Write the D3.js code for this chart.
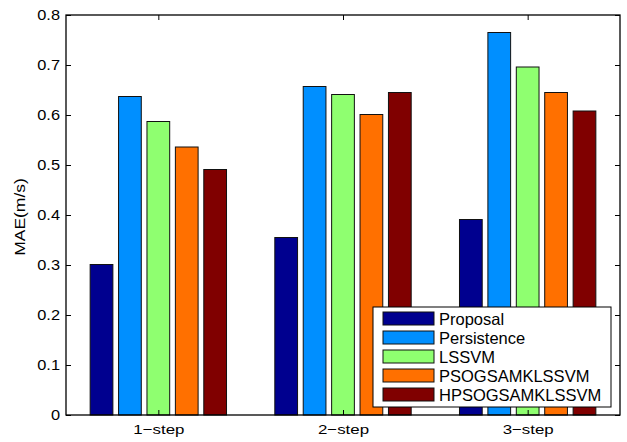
<!DOCTYPE html>
<html lang="en">
<head>
<meta charset="UTF-8">
<title>MAE by step</title>
<script src="https://d3js.org/d3.v7.min.js"></script>
<style>
body { margin: 0; background: #fff; }
text { font-family: 'Liberation Sans', Arial, sans-serif; fill: #000; }
</style>
</head>
<body>
<svg width="627" height="442"></svg>
<script>
var steps = ["1\u2212step", "2\u2212step", "3\u2212step"];
var seriesNames = ["Proposal", "Persistence", "LSSVM", "PSOGSAMKLSSVM", "HPSOGSAMKLSSVM"];
var proposal = [0.301, 0.355, 0.391];
var persistence = [0.637, 0.657, 0.765];
var lssvm = [0.587, 0.641, 0.696];
var psog = [0.536, 0.601, 0.645];
var hpsog = [0.491, 0.645, 0.608];
var yTicks = [0, 0.1, 0.2, 0.3, 0.4, 0.5, 0.6, 0.7, 0.8];
var colors = ["#00008f", "#008fff", "#8fff70", "#ff7000", "#800000"];

var series = [proposal, persistence, lssvm, psog, hpsog];

var svg = d3.select("svg"),
    plot = {left: 66, right: 620, top: 15, bottom: 415};

var x = d3.scaleLinear().domain([0.5, 3.5]).range([plot.left, plot.right]);
var y = d3.scaleLinear().domain([0, 0.8]).range([plot.bottom, plot.top]);

// matlab grouped bar layout
var n = series.length,
    groupW = Math.min(0.8, n / (n + 1.5)),
    step = groupW / n,
    barW = step * 0.8;

series.forEach(function(vals, s) {
    svg.append("g").selectAll("rect")
        .data(vals)
        .enter()
        .append("rect")
        .attr("x", function(d, i) { return x(i + 1 + (s - (n - 1) / 2) * step - barW / 2); })
        .attr("width", x(barW) - x(0))
        .attr("y", function(d) { return y(d); })
        .attr("height", function(d) { return y(0) - y(d); })
        .attr("fill", colors[s])
        .attr("stroke", "#111")
        .attr("stroke-width", 1);
});

// frame
svg.append("rect")
    .attr("x", plot.left).attr("y", plot.top)
    .attr("width", plot.right - plot.left).attr("height", plot.bottom - plot.top)
    .attr("fill", "none").attr("stroke", "#000").attr("stroke-width", 1.3);

// y ticks, both sides, pointing in
var yAxisL = d3.axisLeft(y).tickValues(yTicks).tickSize(-5)
    .tickFormat(function(d) { return d === 0 ? "0" : d3.format(".1f")(d); });
var gy = svg.append("g").attr("transform", "translate(" + plot.left + ",0)").call(yAxisL);
gy.select(".domain").remove();
gy.selectAll("text")
    .style("font-size", "14px")
    .attr("x", null)
    .attr("transform", "translate(-6,0) scale(1.17,1)")
    .attr("text-anchor", "end");

var gyr = svg.append("g").attr("transform", "translate(" + plot.right + ",0)")
    .call(d3.axisRight(y).tickValues(yTicks).tickSize(-5).tickFormat(""));
gyr.select(".domain").remove();

// x ticks, top and bottom
var gx = svg.append("g").attr("transform", "translate(0," + plot.bottom + ")")
    .call(d3.axisBottom(x).tickValues([1, 2, 3]).tickSize(-5).tickFormat(function(d) { return steps[d - 1]; }));
gx.select(".domain").remove();
gx.selectAll("text")
    .style("font-size", "13.5px")
    .attr("y", null).attr("dy", null)
    .attr("transform", "translate(0,19) scale(1.25,1)");

var gxt = svg.append("g").attr("transform", "translate(0," + plot.top + ")")
    .call(d3.axisTop(x).tickValues([1, 2, 3]).tickSize(-5).tickFormat(""));
gxt.select(".domain").remove();

svg.selectAll(".tick line").attr("stroke", "#000");

// y label
svg.append("text")
    .attr("transform", "translate(25,217) rotate(-90) scale(1.25,1)")
    .attr("text-anchor", "middle")
    .style("font-size", "14px")
    .text("MAE(m/s)");

// legend
var lg = svg.append("g").attr("transform", "translate(373,307)");
lg.append("rect")
    .attr("width", 238).attr("height", 100)
    .attr("fill", "#fff").attr("stroke", "#000").attr("stroke-width", 1);
var item = lg.selectAll(".item")
    .data(seriesNames)
    .enter()
    .append("g")
    .attr("transform", function(d, i) { return "translate(0," + (5 + i * 19) + ")"; });
item.append("rect")
    .attr("x", 10).attr("y", 0)
    .attr("width", 51).attr("height", 13)
    .attr("fill", function(d, i) { return colors[i]; })
    .attr("stroke", "#111");
item.append("text")
    .attr("x", 66).attr("y", 13)
    .style("font-size", "16.5px")
    .text(function(d) { return d; });
</script>
</body>
</html>
